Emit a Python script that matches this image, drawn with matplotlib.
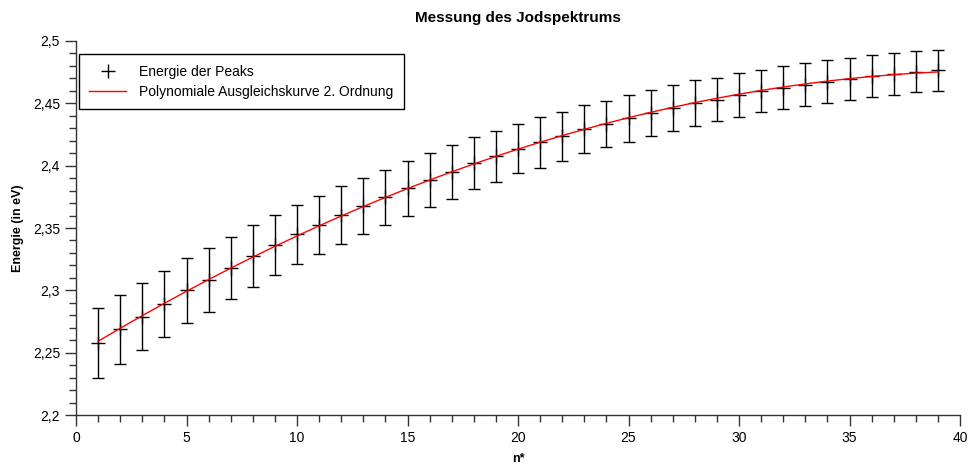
import matplotlib
matplotlib.use("Agg")
import matplotlib.pyplot as plt
from matplotlib.ticker import MultipleLocator, FuncFormatter
import numpy as np

plt.rcParams['font.family'] = ['Liberation Sans', 'DejaVu Sans']

n = np.arange(1, 40)
energie = np.array([
    2.258, 2.2687, 2.2789, 2.2890, 2.3000, 2.3083, 2.3179, 2.3273, 2.3366, 2.3450,
    2.3524, 2.3604, 2.3679, 2.3746, 2.3818, 2.3885, 2.3949, 2.4021, 2.4075, 2.4136,
    2.4187, 2.4235, 2.4292, 2.4334, 2.4380, 2.4425, 2.4463, 2.4503, 2.4529, 2.4567,
    2.4599, 2.4626, 2.4650, 2.4674, 2.4695, 2.4719, 2.4735, 2.4754, 2.4765])
fehler = np.array([
    0.0280, 0.0276, 0.0271, 0.0268, 0.0261, 0.0253, 0.0251, 0.0249, 0.0242, 0.0236,
    0.0233, 0.0232, 0.0226, 0.0221, 0.0222, 0.0216, 0.0213, 0.0207, 0.0202, 0.0198,
    0.0202, 0.0198, 0.0194, 0.0187, 0.0189, 0.0184, 0.0183, 0.0181, 0.0174, 0.0175,
    0.0170, 0.0175, 0.0174, 0.0171, 0.0170, 0.0170, 0.0165, 0.0166, 0.0165])

# Ausgleichskurve 2. Ordnung
koeff = np.polyfit(n, energie, 2)
fit = np.polyval(koeff, n)

fig = plt.figure(figsize=(9.71, 4.68), dpi=100)
ax = fig.add_axes([0.0783, 0.1132, 0.9104, 0.7992])

ax.errorbar(n, energie, yerr=fehler, fmt='none', ecolor='black', elinewidth=1,
            capsize=4.5, capthick=1)
ax.plot(n, energie, '+', color='black', markersize=10, markeredgewidth=1,
        label='Energie der Peaks')
ax.plot(n, fit, '-', color='red', linewidth=1,
        label='Polynomiale Ausgleichskurve 2. Ordnung')

ax.set_xlim(0, 40)
ax.set_ylim(2.2, 2.5)
ax.xaxis.set_major_locator(MultipleLocator(5))
ax.xaxis.set_minor_locator(MultipleLocator(1))
ax.yaxis.set_major_locator(MultipleLocator(0.05))
ax.yaxis.set_minor_locator(MultipleLocator(0.01))
komma = FuncFormatter(lambda v, p: "{:g}".format(round(v, 3)).replace('.', ','))
ax.xaxis.set_major_formatter(komma)
ax.yaxis.set_major_formatter(komma)

ax.spines['top'].set_visible(False)
ax.spines['right'].set_visible(False)
for s in ['left', 'bottom']:
    ax.spines[s].set_linewidth(1)
    ax.spines[s].set_color('#333333')
ax.tick_params(which='major', direction='out', length=8, width=1, labelsize=10,
               color='#333333')
ax.tick_params(which='minor', direction='out', length=5, width=1, color='#333333')

ax.set_title('Messung des Jodspektrums', fontsize=11, fontweight='bold', pad=14)
ax.set_xlabel('n*', fontsize=9, fontweight='bold', labelpad=6)
ax.set_ylabel('Energie (in eV)', fontsize=9, fontweight='bold', labelpad=6)

leg = ax.legend(loc='upper left', bbox_to_anchor=(0.0034, 0.965), borderaxespad=0,
                fontsize=10, fancybox=False, framealpha=1, edgecolor='black',
                handlelength=2.6, borderpad=0.75, labelspacing=0.45,
                handletextpad=1.0)
leg.get_frame().set_linewidth(1)

plt.savefig('out.png', dpi=100)
